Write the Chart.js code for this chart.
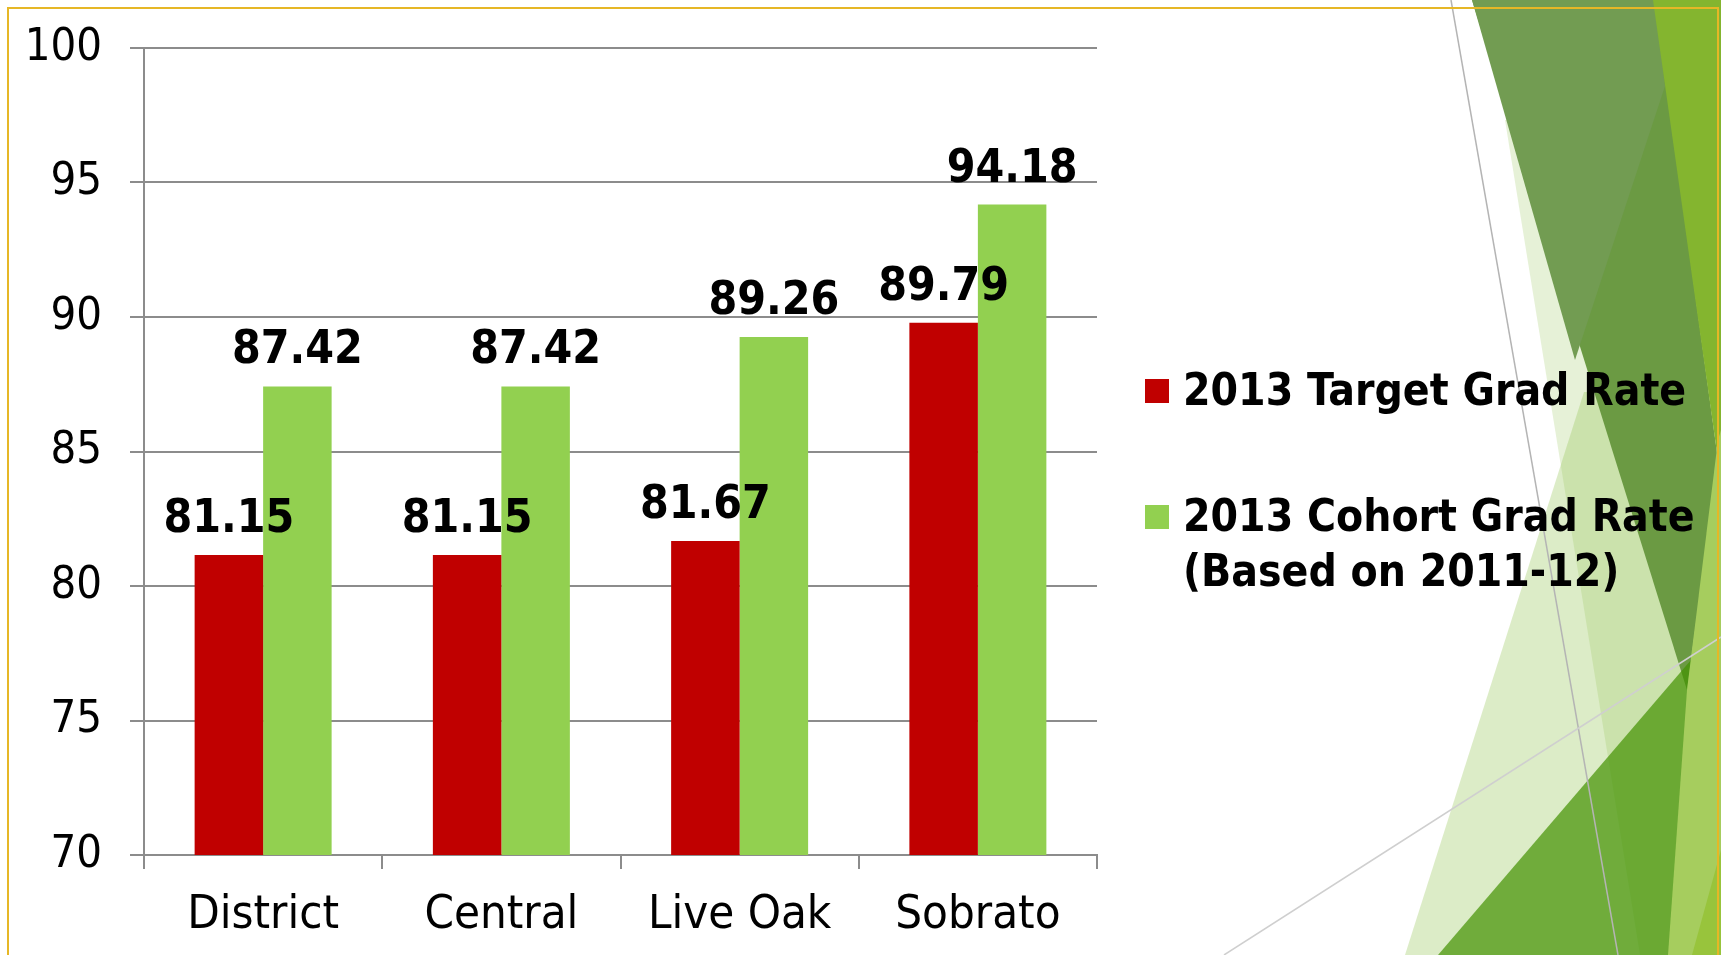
<!DOCTYPE html>
<html>
<head>
<meta charset="utf-8">
<script src="https://cdn.jsdelivr.net/npm/chart.js@4.4.1/dist/chart.umd.min.js"></script>
<style>
  html, body { margin: 0; padding: 0; background: #ffffff; }
  #wrap { position: relative; width: 1721px; height: 955px; }
</style>
</head>
<body>
<div id="wrap"><canvas id="c" width="1721" height="955"></canvas></div>
<script>
// ---- data ----
const categories = ['District', 'Central', 'Live Oak', 'Sobrato'];
const targetRates = [81.15, 81.15, 81.67, 89.79];
const cohortRates = [87.42, 87.42, 89.26, 94.18];
const yMin = 70;
const yMax = 100;
const yStep = 5;
const seriesNames = ['2013 Target Grad Rate', '2013 Cohort Grad Rate (Based on 2011-12)'];
const legendLines = [['2013 Target Grad Rate'], ['2013 Cohort Grad Rate', '(Based on 2011-12)']];
const seriesColors = ['#C00000', '#92D050'];

const FONT = "'DejaVu Sans Condensed', 'DejaVu Sans', sans-serif";
const GRID = '#8c8c8c';

// decorative slide background (right side) + gold frame
const backgroundPlugin = {
  id: 'slideBg',
  beforeDraw(chart) {
    const ctx = chart.ctx;
    ctx.save();
    ctx.fillStyle = '#ffffff';
    ctx.fillRect(0, 0, chart.width, chart.height);
    const poly = (pts, fill) => {
      ctx.beginPath();
      ctx.moveTo(pts[0][0], pts[0][1]);
      for (let i = 1; i < pts.length; i++) ctx.lineTo(pts[i][0], pts[i][1]);
      ctx.closePath();
      ctx.fillStyle = fill;
      ctx.fill();
    };
    // pale wedge and pale big triangle (right parts hidden under the dark band)
    poly([[1505, 120], [1640, 955], [1721, 955], [1721, 700], [1560, 120]], 'rgba(146,195,80,0.23)');
    poly([[1584, 392], [1405, 955], [1721, 955], [1721, 700], [1640, 392]], 'rgba(146,195,80,0.32)');
    // dark green band
    poly([[1472, 0], [1655, 0], [1718, 460], [1687, 690]], '#6b9a43');
    poly([[1472, 0], [1655, 0], [1665, 86], [1575, 360]], '#729c52');
    // bright strip top right
    poly([[1653, 0], [1721, 0], [1721, 480], [1718, 460]], '#84b52f');
    // mid green triangle bottom right
    poly([[1721, 625], [1721, 955], [1438, 955]], 'rgba(66,146,0,0.70)');
    // light strip right edge
    poly([[1718, 440], [1721, 430], [1721, 955], [1668, 955], [1687, 690]], '#a6cd5e');
    poly([[1721, 850], [1721, 955], [1692, 955]], '#98c43c');
    // thin grey lines
    ctx.lineWidth = 1.5;
    ctx.strokeStyle = '#b4b4b4';
    ctx.beginPath(); ctx.moveTo(1451, 0); ctx.lineTo(1618, 955); ctx.stroke();
    ctx.strokeStyle = '#cfcfcf';
    ctx.beginPath(); ctx.moveTo(1224, 955); ctx.lineTo(1721, 637); ctx.stroke();
    // gold frame
    ctx.strokeStyle = '#e6b726';
    ctx.lineWidth = 2;
    ctx.strokeRect(8, 8, 1710, 960);
    ctx.restore();
  }
};

// value labels above bars
const valueLabelPlugin = {
  id: 'valueLabels',
  afterDatasetsDraw(chart) {
    const ctx = chart.ctx;
    ctx.save();
    ctx.font = 'bold 46px ' + FONT;
    ctx.fillStyle = '#000000';
    ctx.textAlign = 'center';
    ctx.textBaseline = 'alphabetic';
    chart.data.datasets.forEach((ds, di) => {
      const meta = chart.getDatasetMeta(di);
      meta.data.forEach((bar, i) => {
        ctx.fillText(ds.data[i].toFixed(2), bar.x, bar.y - 23);
      });
    });
    ctx.restore();
  }
};

// legend at the right
const legendPlugin = {
  id: 'sideLegend',
  afterDraw(chart) {
    const ctx = chart.ctx;
    ctx.save();
    ctx.font = 'bold 44px ' + FONT;
    ctx.textAlign = 'left';
    ctx.textBaseline = 'middle';
    const startY = [391, 517];
    chart.data.datasets.forEach((ds, di) => {
      const y0 = startY[di];
      ctx.fillStyle = ds.backgroundColor;
      ctx.fillRect(1145, y0 - 12, 24, 24);
      ctx.fillStyle = '#000000';
      legendLines[di].forEach((line, li) => {
        ctx.fillText(line, 1183, y0 + 3 + li * 55);
      });
    });
    ctx.restore();
  }
};

new Chart(document.getElementById('c'), {
  type: 'bar',
  data: {
    labels: categories,
    datasets: [
      { label: seriesNames[0], data: targetRates, backgroundColor: seriesColors[0], borderWidth: 0 },
      { label: seriesNames[1], data: cohortRates, backgroundColor: seriesColors[1], borderWidth: 0 }
    ]
  },
  options: {
    responsive: false,
    animation: false,
    events: [],
    layout: { padding: { top: 48, right: 624, bottom: 0, left: 0 } },
    datasets: { bar: { categoryPercentage: 0.575, barPercentage: 1.0 } },
    plugins: { legend: { display: false }, tooltip: { enabled: false }, title: { display: false } },
    scales: {
      x: {
        grid: { display: true, drawOnChartArea: false, drawTicks: true, tickLength: 14, offset: true, color: GRID, lineWidth: 2 },
        border: { display: true, color: GRID, width: 2 },
        ticks: { color: '#000000', font: { family: FONT, size: 47 }, padding: 19, maxRotation: 0 },
        afterFit(scale) { scale.height = 100; }
      },
      y: {
        min: yMin,
        max: yMax,
        grid: { color: GRID, lineWidth: 2, tickLength: 14, drawTicks: true },
        border: { display: true, color: GRID, width: 2 },
        ticks: { stepSize: yStep, color: '#000000', font: { family: FONT, size: 45 }, padding: 28 },
        afterFit(scale) { scale.width = 144; scale.paddingTop = 0; scale.paddingBottom = 0; }
      }
    }
  },
  plugins: [backgroundPlugin, valueLabelPlugin, legendPlugin]
});
</script>
</body>
</html>
